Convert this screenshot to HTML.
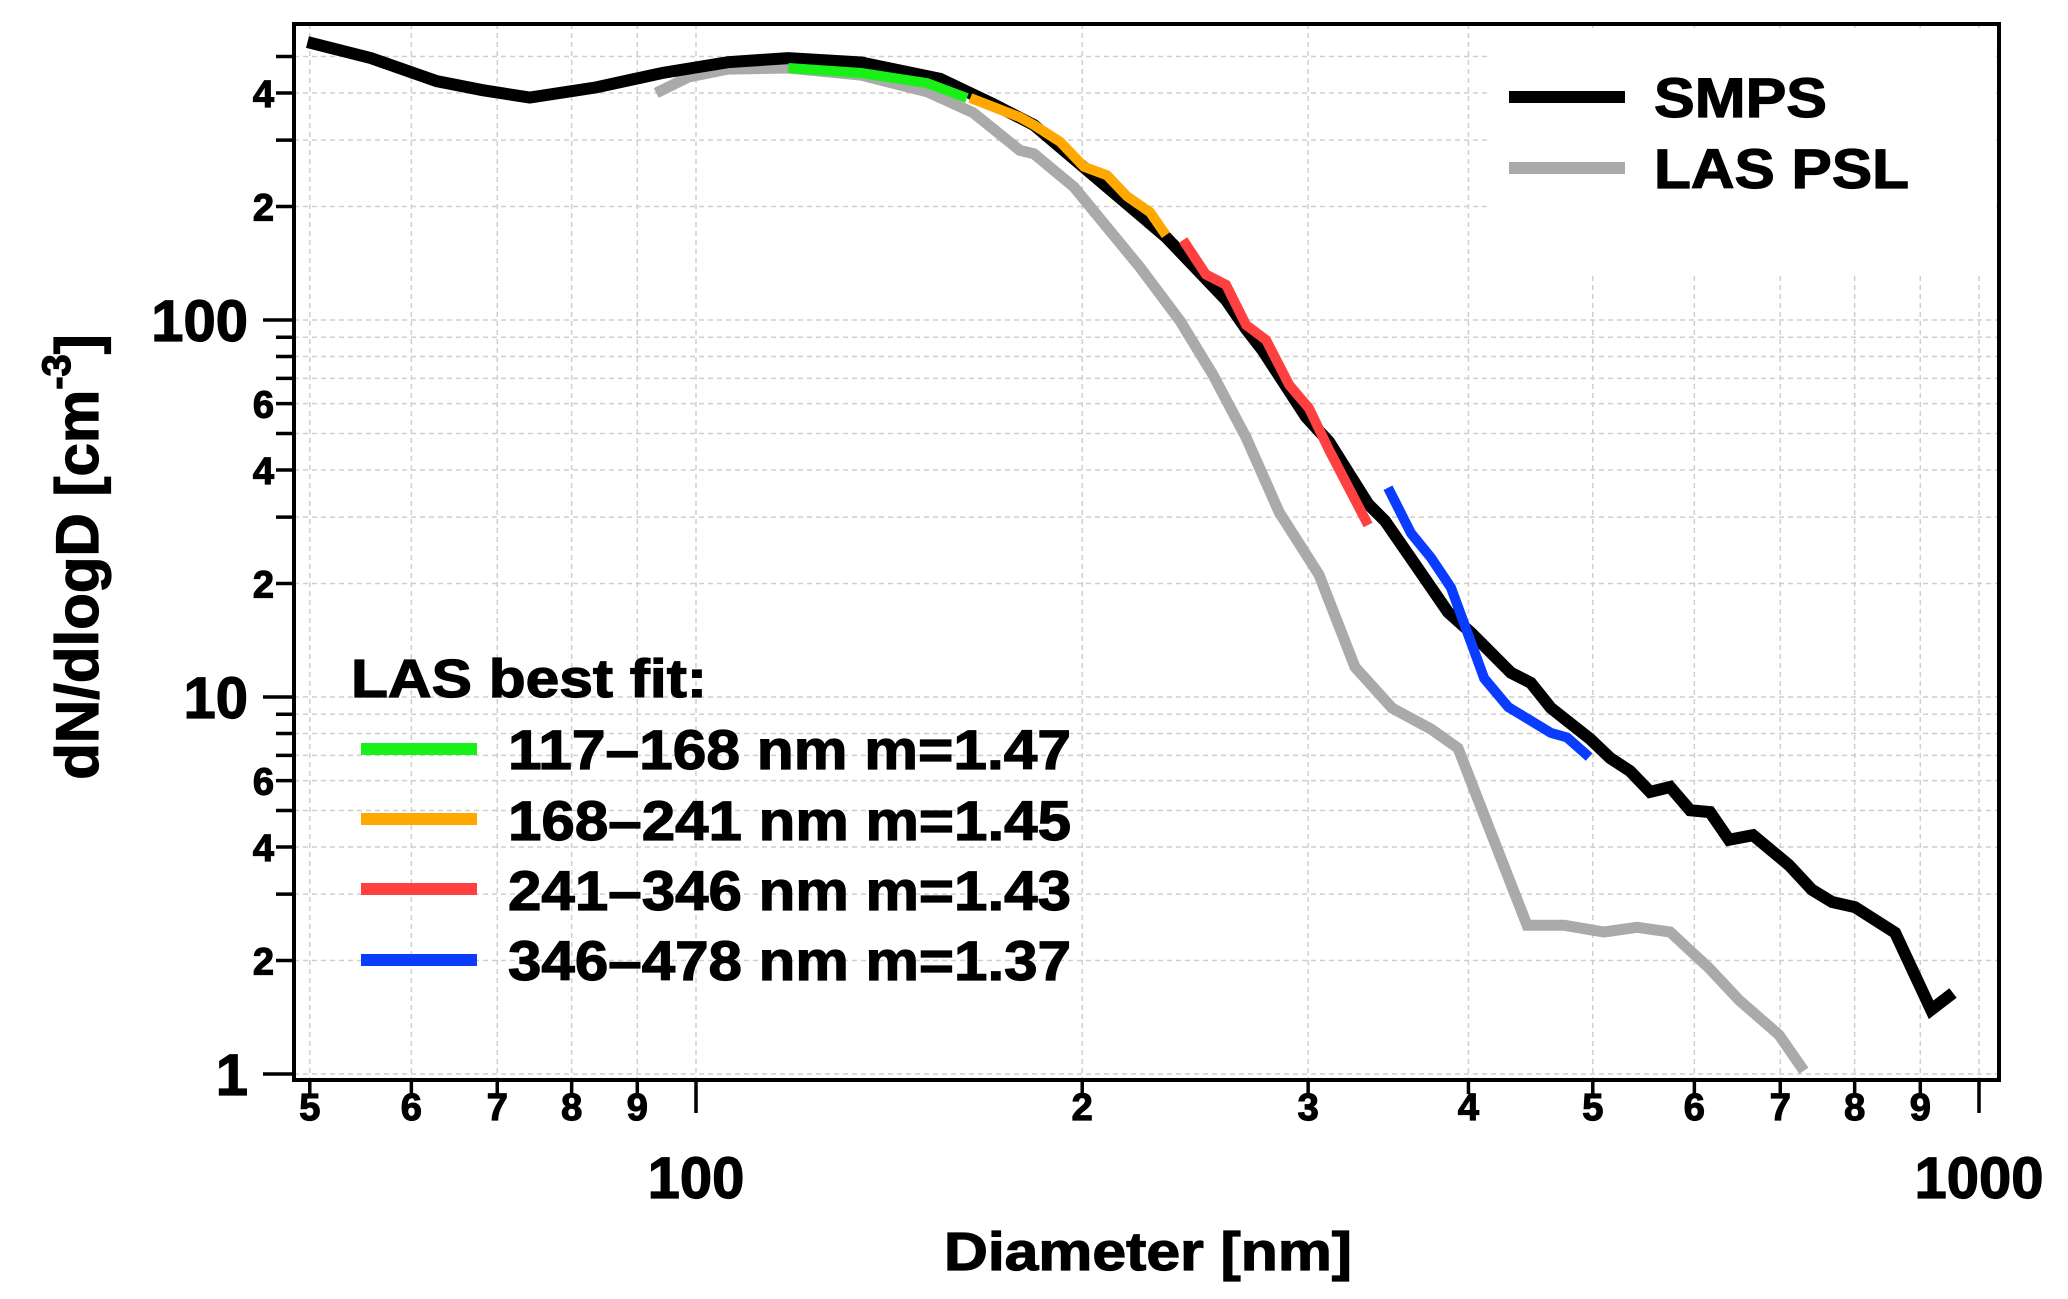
<!DOCTYPE html>
<html><head><meta charset="utf-8">
<style>
html,body{margin:0;padding:0;background:#fff;}
svg{display:block;}
text{font-family:"Liberation Sans",Arial,sans-serif;font-weight:bold;fill:#000;stroke:#000;stroke-width:1.2;}
</style></head>
<body>
<svg id="chart" width="2068" height="1299" viewBox="0 0 2068 1299" xmlns="http://www.w3.org/2000/svg">
<g id="grid"></g>
<g id="series"></g>
<rect x="294" y="24" width="1705" height="1056" fill="none" stroke="#000" stroke-width="4"/>
<g id="axes"></g>
<text x="1148" y="1270" font-size="54" text-anchor="middle" textLength="408" lengthAdjust="spacingAndGlyphs">Diameter [nm]</text>
<text transform="translate(98,557) rotate(-90)" font-size="60" text-anchor="middle">dN/dlogD [cm<tspan dy="-28" font-size="40">-3</tspan><tspan dy="28">]</tspan></text>
<g>
<line x1="1509" y1="97" x2="1625" y2="97" stroke="#000" stroke-width="12"/>
<text x="1654" y="117" font-size="56" textLength="173" lengthAdjust="spacingAndGlyphs">SMPS</text>
<line x1="1509" y1="168" x2="1625" y2="168" stroke="#aaaaaa" stroke-width="12"/>
<text x="1654" y="188" font-size="56" textLength="255" lengthAdjust="spacingAndGlyphs">LAS PSL</text>
</g>
<g>
<text x="351" y="697" font-size="54" textLength="356" lengthAdjust="spacingAndGlyphs">LAS best fit:</text>
<line x1="361" y1="749" x2="477" y2="749" stroke="#18f018" stroke-width="12"/>
<text x="508" y="769" font-size="56" textLength="563" lengthAdjust="spacingAndGlyphs">117–168 nm m=1.47</text>
<line x1="361" y1="819" x2="477" y2="819" stroke="#ffa800" stroke-width="12"/>
<text x="508" y="840" font-size="56" textLength="563" lengthAdjust="spacingAndGlyphs">168–241 nm m=1.45</text>
<line x1="361" y1="889" x2="477" y2="889" stroke="#ff4040" stroke-width="12"/>
<text x="508" y="910" font-size="56" textLength="563" lengthAdjust="spacingAndGlyphs">241–346 nm m=1.43</text>
<line x1="361" y1="960" x2="477" y2="960" stroke="#0a3cff" stroke-width="12"/>
<text x="508" y="980" font-size="56" textLength="563" lengthAdjust="spacingAndGlyphs">346–478 nm m=1.37</text>
</g>
</svg>
<script>
const smpsD=[49.8,55.8,62.8,68.2,74.2,83.6,94.1,105.9,118.0,134.5,155.0,170.4,183.4,232.4,258.9,268.4,276.3,298.9,311.5,334.1,344.4,370.0,385.6,401.9,431.7,447.4,463.8,497.6,515.8,534.6,554.1,574.4,595.4,617.1,638.5,666.6,711.2,741.0,768.2,800.6,860.2,917.6,954.4];
const smpsV=[546,495,430,407,389,414,452,483,495,482,436,374,329,166,113,94.6,83.3,55.3,47.5,32.5,29.3,20.6,16.8,14.8,11.6,10.9,9.35,7.74,6.89,6.36,5.60,5.77,5.01,4.95,4.18,4.30,3.58,3.08,2.86,2.77,2.37,1.48,1.64];
const lasD=[93.1,98.7,105.9,118.0,134.5,151.4,164.4,178.8,183.4,197.1,221.8,238.4,252.9,268.4,284.8,305.9,326.3,348.7,374.1,392.6,416.5,444.4,474.9,510.3,541.3,574.4,616.1,650.1,698.4,730.4];
const lasV=[400,441,463,466,446,403,355,282,276,225,138,99.4,71.5,48.8,30.9,21.1,12.0,9.35,8.22,7.32,4.36,2.48,2.48,2.38,2.45,2.38,1.91,1.57,1.27,1.02];
const greenD=[118.0,134.5,151.4,162.6];
const greenV=[466,452,425,388];
const orangeD=[163.6,178.8,183.4,192.2,200.6,209.1,216.7,225.9,232.4];
const orangeV=[388,345,329,297,255,242,213,193,168];
const redD=[239.7,249.7,258.9,268.4,278.2,290.0,300.4,311.5,334.1];
const redV=[163,132,124,97,88.5,67.2,58.4,45.2,28.6];
const blueD=[346.2,360.8,374.1,387.7,411.5,429.6,463.8,477.5,496.7];
const blueV=[35.9,27.2,23.4,19.5,11.2,9.41,8.03,7.81,6.93];
const yTickVals=[1,2,3,4,5,6,7,8,9,10,20,30,40,50,60,70,80,90,100,200,300,400,500];
const yTickLabels={1:"1",2:"2",4:"4",6:"6",10:"10",20:"2",40:"4",60:"6",100:"100",200:"2",400:"4"};
const xTickVals=[50,60,70,80,90,100,200,300,400,500,600,700,800,900,1000];
const xTickLabels={50:"5",60:"6",70:"7",80:"8",90:"9",200:"2",300:"3",400:"4",500:"5",600:"6",700:"7",800:"8",900:"9"};
const xBig={100:"100",1000:"1000"};

const NS="http://www.w3.org/2000/svg";
function X(d){return 696+1283*Math.log10(d/100);}
function Y(v){return 1074-377*Math.log10(v);}
const L=294,R=1999,T=24,B=1080;
const grid=document.getElementById('grid'),axes=document.getElementById('axes'),series=document.getElementById('series');
function mk(tag,attrs,parent){const e=document.createElementNS(NS,tag);for(const k in attrs)e.setAttribute(k,attrs[k]);parent.appendChild(e);return e;}

yTickVals.forEach(v=>{
  const y=Y(v);
  const g=mk('line',{x1:L,x2:R,y1:y,y2:y,stroke:'#cfcfcf','stroke-width':1.5,'stroke-dasharray':'5,4'},grid);
  
  
  const major=(v===1||v===10||v===100);
  const t=mk('line',{x1:L-(major?31:18),x2:L,y1:y,y2:y,stroke:'#000','stroke-width':3.5},axes);
  
  
  if(yTickLabels[v]){
    const lb=mk('text',{x:major?248:274,y:y+(major?21:14),'text-anchor':'end','font-size':major?58:38},axes);
    lb.textContent=yTickLabels[v];
    
    
  }
});
xTickVals.forEach(d=>{
  const x=X(d);
  const g=mk('line',{x1:x,x2:x,y1:T,y2:B,stroke:'#cfcfcf','stroke-width':1.5,'stroke-dasharray':'5,4'},grid);
  
  
  const major=(d===100||d===1000);
  const t=mk('line',{x1:x,x2:x,y1:B,y2:B+(major?33:14),stroke:'#000','stroke-width':3.5},axes);
  
  
  if(xTickLabels[d]){
    const lb=mk('text',{x:x,y:1120,'text-anchor':'middle','font-size':38},axes);
    lb.textContent=xTickLabels[d];
    
    
  }
  if(xBig[d]){
    const lb=mk('text',{x:x,y:1198,'text-anchor':'middle','font-size':58},axes);
    lb.textContent=xBig[d];
    
    
  }
});
const bg=mk('rect',{x:1491,y:28,width:505,height:247,fill:'#fff'},grid);



function line(ds,vs,color,w,name){
  const p=ds.map((d,i)=>X(d).toFixed(1)+','+Y(vs[i]).toFixed(1)).join(' ');
  const e=mk('polyline',{points:p,fill:'none',stroke:color,'stroke-width':w,'stroke-linejoin':'miter','stroke-linecap':'butt'},series);
  
  
}
line(lasD,lasV,'#aaaaaa',11,'las-psl-line');
line(smpsD,smpsV,'#000000',12,'smps-line');
line(greenD,greenV,'#18f018',10,'fit-117-168-line');
line(orangeD,orangeV,'#ffa800',10,'fit-168-241-line');
line(redD,redV,'#ff4040',10,'fit-241-346-line');
line(blueD,blueV,'#0a3cff',10,'fit-346-478-line');
</script>
</body></html>
